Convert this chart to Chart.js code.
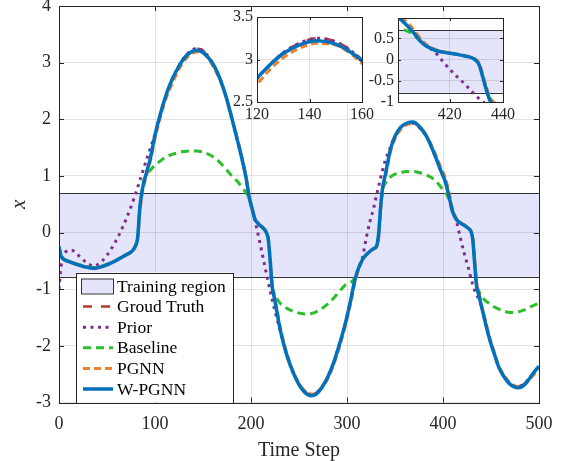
<!DOCTYPE html>
<html>
<head>
<meta charset="utf-8">
<script src="https://cdn.jsdelivr.net/npm/chart.js@4.4.0/dist/chart.umd.min.js"></script>
<style>
    body { margin: 0; background: #fff; }
    #wrap { position: relative; width: 568px; height: 461px; }
    canvas { position: absolute; }
</style>
</head>
<body>
<div id="wrap">
    <canvas id="mainChart" width="568" height="461" style="left:0;top:0"></canvas>
    <canvas id="zoomPeak" width="175" height="125" style="left:210px;top:5px"></canvas>
    <canvas id="zoomDrop" width="175" height="125" style="left:350px;top:5px"></canvas>
</div>
<script>
// Time steps (denser around the sharp transitions)
const timeSteps = [0, 2, 4, 8, 13, 20, 28, 36, 45, 54, 62, 70, 76, 80, 82, 84, 86, 88, 91, 95,
    100, 106, 112, 118, 124, 130, 136, 143, 150, 156, 162, 168, 174, 180, 186, 191, 195, 198, 201, 204,
    208, 212, 216, 218, 220, 222, 224, 227, 230, 235, 240, 246, 252, 258, 263, 268, 274, 280, 286, 292,
    298, 304, 308, 312, 316, 320, 324, 328, 331, 333, 335, 337, 340, 345, 350, 356, 362, 369, 375, 381,
    387, 393, 398, 402, 406, 410, 414, 418, 422, 426, 429, 431, 433, 435, 437, 440, 444, 448, 453, 458,
    464, 470, 478, 484, 490, 495, 500];

const groundTruth = [-0.25, -0.40, -0.45, -0.49, -0.52, -0.56, -0.60, -0.62, -0.59, -0.53, -0.46, -0.39, -0.33, -0.22, -0.08, 0.40, 0.68, 0.86, 1.05, 1.30,
    1.72, 2.12, 2.45, 2.70, 2.91, 3.08, 3.19, 3.25, 3.21, 3.10, 2.93, 2.70, 2.40, 2.02, 1.62, 1.27, 0.95, 0.63, 0.43, 0.24,
    0.15, 0.09, 0.00, -0.12, -0.50, -0.95, -1.13, -1.40, -1.68, -2.03, -2.30, -2.55, -2.73, -2.83, -2.86, -2.83, -2.72, -2.55, -2.30, -1.98,
    -1.62, -1.18, -0.85, -0.63, -0.48, -0.39, -0.33, -0.28, -0.23, -0.02, 0.45, 0.78, 1.03, 1.45, 1.70, 1.85, 1.92, 1.93, 1.86, 1.74,
    1.55, 1.30, 1.08, 0.92, 0.66, 0.37, 0.23, 0.17, 0.13, 0.08, 0.02, -0.12, -0.55, -0.95, -1.08, -1.30, -1.58, -1.85, -2.12, -2.37,
    -2.55, -2.66, -2.72, -2.68, -2.57, -2.46, -2.36];

const prior = [-1.00, -0.62, -0.42, -0.33, -0.31, -0.40, -0.52, -0.59, -0.50, -0.30, -0.06, 0.24, 0.50, 0.70, 0.80, 0.91, 1.01, 1.12, 1.28, 1.48,
    1.74, 2.12, 2.45, 2.70, 2.91, 3.08, 3.19, 3.25, 3.21, 3.10, 2.93, 2.70, 2.40, 2.02, 1.62, 1.27, 0.95, 0.63, 0.43, 0.22,
    -0.08, -0.40, -0.72, -0.88, -1.03, -1.18, -1.32, -1.52, -1.70, -2.03, -2.30, -2.55, -2.73, -2.83, -2.86, -2.83, -2.72, -2.55, -2.30, -1.98,
    -1.62, -1.18, -0.85, -0.63, -0.45, -0.10, 0.20, 0.45, 0.68, 0.82, 0.97, 1.10, 1.28, 1.50, 1.70, 1.85, 1.92, 1.93, 1.86, 1.74,
    1.55, 1.30, 1.08, 0.92, 0.66, 0.37, 0.20, -0.09, -0.36, -0.60, -0.80, -0.92, -1.02, -1.10, -1.17, -1.30, -1.58, -1.85, -2.12, -2.37,
    -2.55, -2.66, -2.72, -2.68, -2.57, -2.46, -2.36];

const baseline = [-0.25, -0.40, -0.45, -0.49, -0.52, -0.56, -0.60, -0.62, -0.59, -0.53, -0.46, -0.39, -0.33, -0.22, -0.08, 0.40, 0.68, 0.90, 1.01, 1.10,
    1.19, 1.27, 1.34, 1.38, 1.41, 1.43, 1.44, 1.44, 1.42, 1.38, 1.32, 1.23, 1.12, 1.00, 0.90, 0.79, 0.70, 0.62, 0.43, 0.24,
    0.15, 0.09, 0.00, -0.12, -0.50, -0.93, -1.06, -1.17, -1.24, -1.31, -1.36, -1.40, -1.43, -1.44, -1.43, -1.40, -1.34, -1.26, -1.16, -1.04,
    -0.93, -0.88, -0.80, -0.63, -0.48, -0.39, -0.33, -0.28, -0.23, -0.02, 0.45, 0.74, 0.87, 0.98, 1.03, 1.06, 1.08, 1.08, 1.06, 1.03,
    0.98, 0.90, 0.80, 0.72, 0.60, 0.37, 0.23, 0.17, 0.13, 0.08, 0.02, -0.12, -0.55, -0.93, -1.02, -1.12, -1.20, -1.25, -1.31, -1.35,
    -1.39, -1.41, -1.40, -1.37, -1.32, -1.28, -1.25];

const pgnn = [-0.27, -0.41, -0.46, -0.50, -0.53, -0.57, -0.61, -0.63, -0.60, -0.54, -0.47, -0.40, -0.34, -0.24, -0.12, 0.30, 0.60, 0.80, 1.00, 1.25,
    1.66, 2.06, 2.39, 2.63, 2.85, 3.02, 3.13, 3.19, 3.17, 3.06, 2.89, 2.68, 2.40, 2.04, 1.65, 1.30, 0.98, 0.66, 0.45, 0.25,
    0.16, 0.10, 0.02, -0.08, -0.44, -0.88, -1.08, -1.35, -1.63, -1.99, -2.27, -2.53, -2.71, -2.82, -2.85, -2.84, -2.74, -2.58, -2.34, -2.03,
    -1.67, -1.24, -0.90, -0.66, -0.50, -0.40, -0.34, -0.29, -0.25, -0.10, 0.35, 0.70, 0.97, 1.40, 1.66, 1.82, 1.90, 1.92, 1.87, 1.76,
    1.58, 1.35, 1.14, 0.99, 0.74, 0.42, 0.25, 0.18, 0.14, 0.09, 0.03, -0.08, -0.48, -0.88, -1.03, -1.25, -1.54, -1.81, -2.09, -2.34,
    -2.53, -2.65, -2.72, -2.70, -2.60, -2.50, -2.40];

const wpgnn = [-0.25, -0.41, -0.46, -0.50, -0.53, -0.57, -0.61, -0.63, -0.60, -0.54, -0.47, -0.39, -0.33, -0.22, -0.08, 0.40, 0.68, 0.86, 1.05, 1.30,
    1.72, 2.12, 2.45, 2.71, 2.91, 3.07, 3.17, 3.22, 3.18, 3.08, 2.93, 2.70, 2.40, 2.02, 1.62, 1.27, 0.95, 0.63, 0.43, 0.24,
    0.15, 0.09, 0.00, -0.12, -0.50, -0.95, -1.13, -1.40, -1.68, -2.03, -2.30, -2.55, -2.74, -2.85, -2.88, -2.85, -2.73, -2.55, -2.30, -1.98,
    -1.62, -1.18, -0.85, -0.63, -0.48, -0.39, -0.33, -0.28, -0.23, -0.02, 0.45, 0.78, 1.03, 1.45, 1.70, 1.86, 1.93, 1.95, 1.88, 1.75,
    1.55, 1.30, 1.08, 0.92, 0.66, 0.37, 0.23, 0.17, 0.13, 0.08, 0.02, -0.12, -0.55, -0.95, -1.08, -1.30, -1.58, -1.85, -2.12, -2.37,
    -2.56, -2.68, -2.74, -2.70, -2.58, -2.46, -2.36];

// Lower and upper edge of the training region
const trainingRegion = [-0.78, 0.69];

const ink = '#262626';
const gridColor = 'rgba(0, 0, 0, 0.11)';
const regionFill = '#E4E4FA';
const serif = "'Liberation Serif', 'Times New Roman', serif";

Chart.defaults.font.family = serif;
Chart.defaults.color = ink;

function series(values) {
    return timeSteps.map((t, i) => ({ x: t, y: values[i] }));
}

function plainNumber(v) {
    return String(+Number(v).toFixed(2));
}

// no extra room for labels that hang over the plot corners
function fixWidth(w) {
    return s => { s.width = w; s.paddingTop = 0; s.paddingBottom = 0; };
}
function fixHeight(h) {
    return s => { s.height = h; s.paddingLeft = 0; s.paddingRight = 0; };
}

function buildDatasets() {
    return [
        { label: 'Groud Truth', data: series(groundTruth), borderColor: '#B8372A', borderWidth: 2.5, borderDash: [9, 9], order: 5 },
        { label: 'Prior', data: series(prior), borderColor: '#7E2F8E', borderWidth: 3, borderDash: [3, 4.5], order: 4 },
        { label: 'Baseline', data: series(baseline), borderColor: '#2DBE2D', borderWidth: 3, borderDash: [8, 5], order: 3 },
        { label: 'PGNN', data: series(pgnn), borderColor: '#EE8130', borderWidth: 3, borderDash: [7, 4], order: 2 },
        { label: 'W-PGNN', data: series(wpgnn), borderColor: '#0072BD', borderWidth: 3.5, order: 1 }
    ].map(d => Object.assign(d, { pointRadius: 0, fill: false, cubicInterpolationMode: 'monotone' }));
}

// White plot area, training band, frame and inward ticks
const boxPlugin = {
    id: 'box',
    beforeDraw(chart) {
        const { ctx, chartArea: a, scales: { y } } = chart;
        ctx.save();
        ctx.fillStyle = '#fff';
        ctx.fillRect(a.left, a.top, a.right - a.left, a.bottom - a.top);
        const top = Math.max(y.getPixelForValue(trainingRegion[1]), a.top);
        const bot = Math.min(y.getPixelForValue(trainingRegion[0]), a.bottom);
        if (bot > top) {
            ctx.fillStyle = regionFill;
            ctx.fillRect(a.left, top, a.right - a.left, bot - top);
        }
        ctx.restore();
    },
    beforeDatasetsDraw(chart) {
        const { ctx, chartArea: a, scales: { y } } = chart;
        ctx.save();
        ctx.strokeStyle = '#333';
        ctx.lineWidth = 1;
        trainingRegion.forEach(v => {
            const py = Math.round(y.getPixelForValue(v)) + 0.5;
            if (py > a.top && py < a.bottom) {
                ctx.beginPath();
                ctx.moveTo(a.left, py);
                ctx.lineTo(a.right, py);
                ctx.stroke();
            }
        });
        ctx.restore();
    },
    afterDraw(chart, args, opts) {
        const { ctx, chartArea: a, scales: { x, y } } = chart;
        const len = opts.tick || 4;
        ctx.save();
        ctx.strokeStyle = ink;
        ctx.lineWidth = 1;
        ctx.strokeRect(Math.round(a.left) + 0.5, Math.round(a.top) + 0.5, Math.round(a.right - a.left), Math.round(a.bottom - a.top));
        ctx.beginPath();
        x.ticks.forEach(t => {
            const px = Math.round(x.getPixelForValue(t.value)) + 0.5;
            ctx.moveTo(px, a.bottom); ctx.lineTo(px, a.bottom - len);
            ctx.moveTo(px, a.top); ctx.lineTo(px, a.top + len);
        });
        y.ticks.forEach(t => {
            const py = Math.round(y.getPixelForValue(t.value)) + 0.5;
            ctx.moveTo(a.left, py); ctx.lineTo(a.left + len, py);
            ctx.moveTo(a.right, py); ctx.lineTo(a.right - len, py);
        });
        ctx.stroke();
        ctx.restore();
    }
};

// Legend box in the lower left corner of the main plot
const legendPlugin = {
    id: 'keyBox',
    afterDraw(chart) {
        const { ctx, chartArea: a } = chart;
        const x0 = a.left + 17;
        const w = 157;
        const h = 130;
        const y0 = a.bottom - h;
        const rowH = 20.6;
        ctx.save();
        ctx.fillStyle = '#fff';
        ctx.fillRect(x0, y0, w, h);
        ctx.strokeStyle = ink;
        ctx.lineWidth = 1;
        ctx.strokeRect(Math.round(x0) + 0.5, Math.round(y0) + 0.5, w, h);
        ctx.font = '17.5px ' + serif;
        ctx.textBaseline = 'middle';

        let cy = y0 + 13.5;
        ctx.fillStyle = regionFill;
        ctx.fillRect(x0 + 5, cy - 7.5, 32, 15);
        ctx.strokeStyle = '#333';
        ctx.strokeRect(x0 + 5.5, cy - 7, 32, 15);
        ctx.fillStyle = '#000';
        ctx.fillText('Training region', x0 + 41, cy + 1);

        chart.data.datasets.forEach(ds => {
            cy += rowH;
            ctx.beginPath();
            ctx.strokeStyle = ds.borderColor;
            ctx.lineWidth = ds.borderWidth;
            ctx.setLineDash(ds.borderDash || []);
            ctx.moveTo(x0 + 7, cy);
            ctx.lineTo(x0 + 37, cy);
            ctx.stroke();
            ctx.setLineDash([]);
            ctx.fillText(ds.label, x0 + 41, cy + 1);
        });
        ctx.restore();
    }
};

new Chart(document.getElementById('mainChart'), {
    type: 'line',
    data: { datasets: buildDatasets() },
    options: {
        responsive: false,
        animation: false,
        devicePixelRatio: 1,
        layout: { padding: { top: 6, right: 29, left: 0, bottom: 0 } },
        plugins: { legend: { display: false }, tooltip: { enabled: false }, box: { tick: 5 } },
        scales: {
            x: {
                type: 'linear', min: 0, max: 500,
                afterFit: fixHeight(58.5),
                ticks: { stepSize: 100, font: { size: 18 }, color: ink, padding: 11, maxRotation: 0 },
                grid: { color: gridColor, drawTicks: false },
                border: { display: false },
                title: { display: true, text: 'Time Step', font: { size: 20, lineHeight: 1 }, color: ink, padding: { top: 0, bottom: 0 } }
            },
            y: {
                min: -3, max: 4,
                afterFit: fixWidth(59),
                ticks: { stepSize: 1, font: { size: 18 }, color: ink, padding: 8 },
                grid: { color: gridColor, drawTicks: false },
                border: { display: false },
                title: { display: true, text: 'x', font: { size: 21, style: 'italic', lineHeight: 1 }, color: ink, padding: { top: 9, bottom: 0 } }
            }
        }
    },
    plugins: [boxPlugin, legendPlugin]
});

function keepInside(s) {
    s.ticks = s.ticks.filter(t => t.value >= s.min - 1e-9 && t.value <= s.max + 1e-9);
}

function insetOptions(xr, yr, yWidth, top, right) {
    return {
        responsive: false,
        animation: false,
        devicePixelRatio: 1,
        layout: { padding: { top: top, right: right, left: 0, bottom: 0 } },
        plugins: { legend: { display: false }, tooltip: { enabled: false }, box: { tick: 3 } },
        scales: {
            x: {
                type: 'linear', min: xr[0], max: xr[1],
                afterFit: fixHeight(28),
                afterBuildTicks: keepInside,
                ticks: { stepSize: 20, font: { size: 16 }, color: ink, padding: 3, maxRotation: 0, includeBounds: false, callback: plainNumber },
                grid: { color: gridColor, drawTicks: false },
                border: { display: false }
            },
            y: {
                min: yr[0], max: yr[1],
                afterFit: fixWidth(yWidth),
                afterBuildTicks: keepInside,
                ticks: { stepSize: 0.5, font: { size: 16 }, color: ink, padding: 4, includeBounds: false, callback: plainNumber },
                grid: { color: gridColor, drawTicks: false },
                border: { display: false }
            }
        }
    };
}

new Chart(document.getElementById('zoomPeak'), {
    type: 'line',
    data: { datasets: buildDatasets() },
    options: insetOptions([120, 160], [2.5, 3.5], 47, 12, 23),
    plugins: [boxPlugin]
});

new Chart(document.getElementById('zoomDrop'), {
    type: 'line',
    data: { datasets: buildDatasets() },
    options: insetOptions([400.5, 440], [-1, 0.98], 48, 13, 22),
    plugins: [boxPlugin]
});
</script>
</body>
</html>
